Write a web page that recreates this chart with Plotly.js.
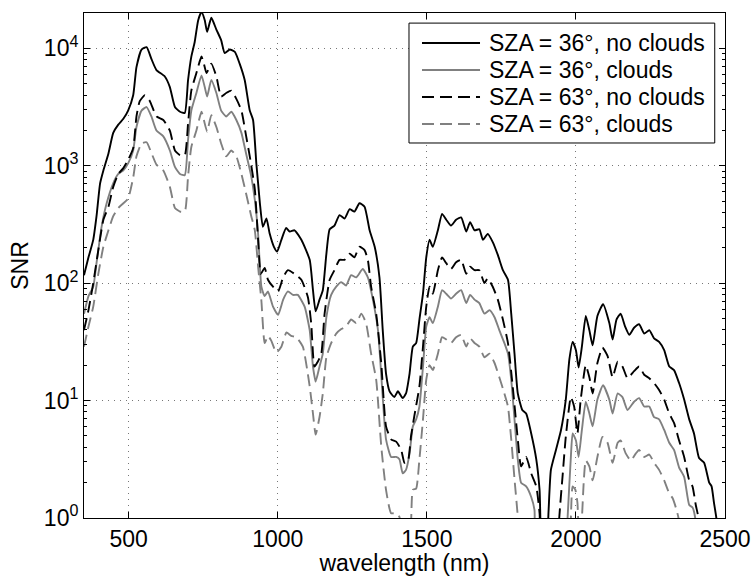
<!DOCTYPE html>
<html>
<head>
<meta charset="utf-8">
<script src="https://cdn.plot.ly/plotly-3.0.1.min.js"></script>
<style>html,body{margin:0;padding:0;background:#fff;}#chart{width:752px;height:576px;}</style>
</head>
<body>
<div id="chart"></div>
<script>
// Series names (legend order)
const seriesNames = ['SZA = 36°, no clouds', 'SZA = 36°, clouds', 'SZA = 63°, no clouds', 'SZA = 63°, clouds'];

// SZA = 36°, no clouds
const wl36clear = [350,365,381,392,404,415,432,448,465,482,498,515,526,543,560,576,593,621,638,655,672,688,699,710,721,733,744,755,763,777,794,810,822,839,856,872,889,906,917,928,934,940,950,962,973,987,998,1012,1028,1040,1056,1079,1107,1118,1127,1140,1151,1163,1174,1190,1207,1224,1241,1257,1274,1291,1308,1325,1341,1352,1363,1375,1391,1403,1419,1430,1442,1453,1464,1475,1487,1498,1509,1520,1537,1551,1565,1581,1598,1615,1632,1645,1660,1676,1688,1704,1721,1738,1755,1772,1783,1794,1805,1820,1833,1850,1867,1878,1888,1900,1908,1916,1933,1950,1966,1978,1989,2000,2009,2020,2033,2045,2056,2072,2091,2112,2123,2136,2150,2165,2179,2195,2212,2229,2246,2262,2279,2296,2313,2329,2346,2363,2380,2396,2413,2430,2447,2455,2463,2471,2480,2500];
const snr36clear = [117,166,234,372,708,912,1274,1905,2239,2512,2951,3981,6918,9772,10233,8128,6531,5754,4677,3162,2884,2818,5370,8511,11220,17378,20417,17378,13804,18197,14454,11749,9120,9772,9333,7413,5370,2951,2455,1050,708,479,302,355,263,204,186,234,295,275,282,234,158,87.1,57.5,72.4,87.1,178,288,309,380,355,427,407,479,447,282,204,112,39.8,17.0,12.0,10.7,12.0,10.5,11.5,17.0,28.8,30.9,49.0,81.3,166,234,204,282,389,347,309,347,363,275,331,282,288,234,263,224,174,129,107,55.0,25.1,11.5,8.32,7.76,5.25,3.16,1.74,0.5,0.5,1.12,2.57,3.80,5.62,10.2,22.4,31.6,26.9,19.1,28.8,52.5,39.8,29.5,52.5,66.1,45.7,33.1,49.0,55.0,42.7,36.3,41.7,44.7,37.2,39.8,33.9,31.6,26.9,19.5,18.2,14.1,10.2,6.92,5.25,3.24,2.95,2.0,1.86,1.35,1.0,0.5,0.3];

// SZA = 36°, clouds
const wl36cloud = [350,365,381,392,409,426,448,465,482,498,515,526,543,560,576,593,616,638,655,672,688,699,710,727,744,755,763,777,794,810,827,844,861,878,894,911,923,934,945,956,967,984,1001,1018,1034,1051,1067,1090,1107,1118,1127,1140,1151,1163,1179,1196,1213,1229,1246,1263,1285,1302,1319,1336,1352,1363,1380,1397,1408,1419,1430,1442,1453,1464,1475,1487,1498,1509,1520,1537,1551,1565,1581,1598,1615,1632,1645,1660,1676,1693,1710,1727,1743,1760,1772,1783,1794,1805,1816,1833,1850,1861,1870,1962,1972,1983,1989,2000,2009,2020,2033,2045,2056,2072,2091,2112,2123,2140,2156,2173,2195,2212,2229,2246,2262,2279,2296,2313,2329,2346,2363,2380,2391,2400,2410];
const snr36cloud = [55.0,77.6,93.3,148,302,479,708,851,912,1047,1349,2138,2951,3162,2630,1995,1778,1349,977,851,832,1660,2951,4169,5888,4677,3890,5370,4169,2951,2630,2884,2455,1905,1259,813,513,263,93.3,77.6,85.1,63.1,53.7,72.4,85.1,79.4,79.4,63.1,39.8,19.5,14.5,19.5,25.1,51.3,79.4,93.3,102,95.5,117,112,132,112,72.4,39.8,10.7,4.68,3.31,3.31,3.16,2.40,2.57,3.55,6.03,6.92,8.91,19.5,42.7,51.3,45.7,63.1,87.1,81.3,74.1,81.3,87.1,67.6,79.4,72.4,67.6,55.0,58.9,51.3,39.8,30.9,25.1,15.1,6.92,3.16,2.0,1.86,1.51,1.17,0.3,0.3,1.0,3.31,5.25,4.57,3.31,5.62,9.77,7.76,6.03,10.2,13.5,10.2,7.76,11.5,10.7,8.32,9.77,10.5,8.91,8.91,7.24,6.92,5.62,4.37,3.80,2.69,2.24,1.29,1.23,1.0,0.3];

// SZA = 63°, no clouds
const wl63clear = [350,365,381,398,415,432,448,465,482,498,515,526,537,554,571,593,616,638,655,672,688,699,710,727,744,752,761,777,794,810,827,844,861,878,894,906,923,934,943,956,967,984,1001,1018,1034,1056,1079,1101,1112,1123,1134,1146,1157,1174,1190,1207,1224,1241,1257,1274,1291,1302,1313,1330,1347,1363,1380,1397,1414,1425,1436,1447,1458,1475,1487,1498,1509,1520,1537,1551,1565,1581,1598,1615,1632,1645,1660,1676,1693,1704,1721,1738,1755,1772,1788,1805,1816,1833,1850,1867,1878,1890,1935,1944,1955,1966,1983,1994,2005,2016,2033,2045,2056,2072,2089,2106,2123,2140,2156,2173,2195,2212,2229,2246,2262,2279,2296,2313,2329,2346,2363,2380,2391,2402,2411,2420];
const snr63clear = [39.8,58.9,100,191,347,447,661,851,955,1122,1413,2630,3548,3981,3548,2630,2455,1995,1349,1230,1230,2291,4365,6166,8511,7413,6166,7413,5754,3890,4169,4365,3715,2951,1778,1202,631,234,120,135,107,93.3,85.1,112,129,120,107,75.9,45.7,19.5,21.4,25.1,55.0,107,129,158,158,178,166,204,191,158,93.3,55.0,20.9,6.03,4.68,4.47,3.80,2.95,3.02,5.0,7.4,13.2,28.8,63.1,93.3,81.3,129,166,148,132,151,158,120,138,129,129,100,110,93.3,72.4,49.0,30.9,13.2,4.68,2.75,3.31,2.40,1.86,1.10,0.3,0.3,1.0,2.24,4.90,10.7,8.91,5.25,10.2,20.0,15.8,11.5,20.9,28.2,24.0,15.8,21.4,19.5,15.5,17.8,19.5,16.6,15.5,14.1,12.3,10.2,7.76,6.46,4.57,3.31,2.09,1.86,1.29,1.0,0.3];

// SZA = 63°, clouds
const wl63cloud = [350,365,381,398,415,432,448,465,482,498,515,526,543,560,576,593,616,638,655,672,688,699,710,727,744,752,763,777,794,810,827,844,861,878,894,911,923,934,945,956,967,978,995,1012,1029,1045,1062,1084,1107,1118,1127,1140,1151,1163,1179,1196,1213,1229,1246,1263,1280,1296,1313,1330,1347,1363,1380,1397,1408,1419,1440,1453,1464,1475,1487,1498,1509,1520,1537,1551,1565,1581,1598,1615,1632,1645,1660,1676,1693,1710,1727,1743,1760,1772,1783,1794,1805,1815,1975,1983,1989,1998,2005,2011,2020,2026,2033,2045,2056,2072,2089,2106,2123,2140,2150,2167,2184,2201,2212,2229,2246,2262,2279,2296,2313,2324,2335,2344,2355];
const snr63cloud = [28.8,42.7,63.1,120,204,282,372,437,479,525,794,1202,1549,1585,1288,1023,912,661,437,407,407,813,1445,1995,2884,2455,1950,2692,2138,1549,1202,1349,1202,851,575,372,282,138,70.8,30.9,35.5,32.4,25.7,28.8,38.0,35.5,34.7,28.8,13.2,7.76,5.13,7.24,11.5,23.4,30.9,37.2,40.7,42.7,49.0,45.7,55.0,45.7,25.1,15.1,4.07,1.74,1.10,1.10,1.02,0.5,0.5,1.74,1.78,3.16,6.92,15.1,20.0,18.2,25.1,34.7,33.1,30.9,34.7,36.3,28.8,33.9,30.9,28.8,23.4,25.1,20.9,15.8,11.5,8.91,4.68,2.14,1.02,0.3,0.3,1.0,1.86,1.74,1.35,0.63,1.0,2.0,3.09,2.75,2.09,3.31,4.90,4.37,2.95,4.37,4.57,3.55,3.09,3.55,3.80,3.31,3.47,2.95,2.57,2.09,1.62,1.48,1.23,1.0,0.3];

const xTicks = [500, 1000, 1500, 2000, 2500];
const yTicks = [1, 10, 100, 1000, 10000];
const yTickText = ['10<sup>0</sup>', '10<sup>1</sup>', '10<sup>2</sup>', '10<sup>3</sup>', '10<sup>4</sup>'];

const yMinor = [];
[1, 10, 100, 1000, 10000].forEach(d => { for (let k = 2; k <= 9; k++) yMinor.push(k * d); });

const GRAY = '#808080';
const DASH = '12px,6px';
const styles = [
  {color: '#000', width: 1.9, dash: 'solid'},
  {color: GRAY, width: 1.9, dash: 'solid'},
  {color: '#000', width: 1.9, dash: DASH},
  {color: GRAY, width: 1.9, dash: DASH}
];
const xs = [wl36clear, wl36cloud, wl63clear, wl63cloud];
const ys = [snr36clear, snr36cloud, snr63clear, snr63cloud];

const traces = seriesNames.map((nm, i) => ({
  type: 'scatter', mode: 'lines', name: nm, x: xs[i], y: ys[i],
  line: Object.assign({shape: 'spline', smoothing: 0.5}, styles[i]),
  hoverinfo: 'skip', showlegend: false
}));

// Legend box drawn in paper coordinates (MATLAB-style compact legend)
const legBox = {x0: 0.507, x1: 0.984, y0: 0.7426, y1: 0.980};
const legRows = [0.9406, 0.8871, 0.8337, 0.7802];
const shapes = [{type: 'rect', xref: 'paper', yref: 'paper', x0: legBox.x0, x1: legBox.x1, y0: legBox.y0, y1: legBox.y1,
  line: {color: '#000', width: 1}, fillcolor: '#fff', layer: 'above'}];
const annotations = [];
seriesNames.forEach((nm, i) => {
  shapes.push({type: 'line', xref: 'paper', yref: 'paper', x0: 0.5273, x1: 0.6178, y0: legRows[i], y1: legRows[i],
    line: {color: styles[i].color, width: styles[i].width, dash: styles[i].dash}, layer: 'above'});
  annotations.push({xref: 'paper', yref: 'paper', x: 0.6287, y: legRows[i], xanchor: 'left', yanchor: 'middle',
    text: nm, showarrow: false, font: {size: 23}});
});

const FONT = 'Liberation Sans, Arial, Helvetica, sans-serif';
const layout = {
  width: 752, height: 576,
  margin: {l: 84, r: 27, t: 13, b: 58, pad: 0},
  paper_bgcolor: '#fff', plot_bgcolor: '#fff',
  font: {family: FONT, size: 23, color: '#000'},
  showlegend: false,
  shapes: shapes,
  annotations: annotations,
  xaxis: {
    range: [350, 2500], tickmode: 'array', tickvals: xTicks,
    ticks: 'inside', ticklen: 6, tickwidth: 1, tickcolor: '#000',
    showline: true, linecolor: '#000', linewidth: 1, mirror: 'ticks',
    showgrid: true, gridcolor: '#777', griddash: '1px,5px', gridwidth: 1,
    zeroline: false, tickfont: {size: 23},
    title: {text: 'wavelength (nm)', font: {size: 23}, standoff: 2}
  },
  yaxis: {
    type: 'log', range: [0, 4.301], tickmode: 'array', tickvals: yTicks, ticktext: yTickText,
    ticks: 'inside', ticklen: 6, tickwidth: 1, tickcolor: '#000',
    showline: true, linecolor: '#000', linewidth: 1, mirror: 'ticks',
    showgrid: true, gridcolor: '#777', griddash: '1px,5px', gridwidth: 1,
    zeroline: false, tickfont: {size: 23},
    minor: {tickmode: 'array', tickvals: yMinor, ticks: 'inside', ticklen: 3, tickcolor: '#000', showgrid: false},
    title: {text: 'SNR', font: {size: 23}, standoff: 8}
  }
};

Plotly.newPlot('chart', traces, layout, {displayModeBar: false, staticPlot: true});
</script>
</body>
</html>
